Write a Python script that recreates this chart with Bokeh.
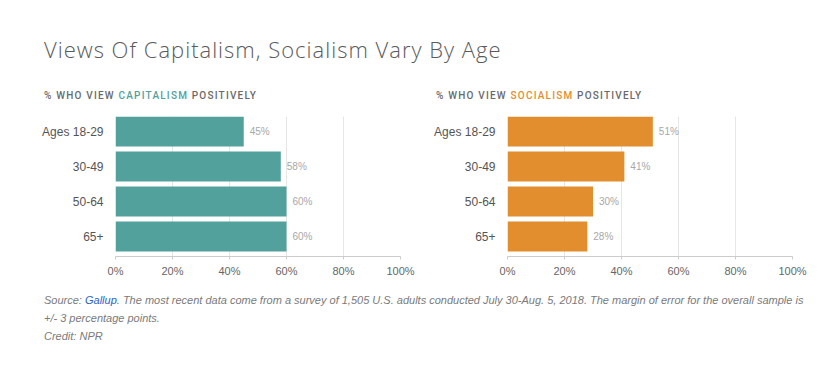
from bokeh.plotting import figure
from bokeh.models import Div, Range1d, FixedTicker, PrintfTickFormatter, ColumnDataSource
from bokeh.layouts import column, row
from bokeh.embed import file_html
from bokeh.resources import INLINE
from bokeh.core.properties import value

title_text = "Views Of Capitalism, Socialism Vary By Age"
age_groups = ["Ages 18-29", "30-49", "50-64", "65+"]
capitalism = [45, 58, 60, 60]
socialism = [51, 41, 30, 28]
x_ticks = [0, 20, 40, 60, 80, 100]

TEAL = "#52a19d"
ORANGE = "#e38e2e"
FONT = "Liberation Sans"

sub_style = ('position:absolute;top:91px;font-family:Roboto;font-weight:500;font-size:10px;'
             'line-height:10px;letter-spacing:1.2px;color:#6a6a6a;white-space:nowrap;')

header = Div(
    width=814, height=108, margin=0,
    text=(
        '<div style="position:relative;width:814px;height:108px;">'
        f'<div style="position:absolute;left:44px;top:38px;font-family:\'Open Sans\';font-weight:300;'
        f'font-size:22px;line-height:22px;letter-spacing:1px;color:#5a5a5a;white-space:nowrap;">{title_text}</div>'
        f'<div style="left:44px;{sub_style}">% WHO VIEW '
        f'<span style="color:{TEAL};">CAPITALISM</span> POSITIVELY</div>'
        f'<div style="left:436px;{sub_style}">% WHO VIEW '
        f'<span style="color:{ORANGE};">SOCIALISM</span> POSITIVELY</div>'
        '</div>'
    ),
)

footer = Div(
    width=814, height=64, margin=0,
    text=(
        f'<div style="padding-top:5px;padding-left:44px;font-family:\'{FONT}\';font-style:italic;font-size:11px;'
        'line-height:18px;color:#7a7a7a;white-space:nowrap;">'
        'Source: <span style="color:#2c5fc7;">Gallup</span>. The most recent data come from a survey of 1,505 U.S. '
        'adults conducted July 30-Aug. 5, 2018. The margin of error for the overall sample is<br>'
        '+/- 3 percentage points.<br>Credit: NPR</div>'
    ),
)


def panel(values, color, left_border, right_border):
    idx = list(range(len(age_groups)))
    src = ColumnDataSource(dict(
        y=idx, v=values, lab=[f"{v}%" for v in values],
    ))
    p = figure(
        output_backend="svg", toolbar_location=None,
        frame_width=285, frame_height=140,
        x_range=Range1d(0, 100), y_range=Range1d(3 + 20 / 35, -15 / 35),
        min_border_left=left_border, min_border_right=right_border,
        min_border_top=8, min_border_bottom=30,
        outline_line_color=None, background_fill_color="white", border_fill_color="white",
    )
    p.hbar(y="y", right="v", left=0, height=30 / 35, source=src, fill_color=color, line_color=None)
    p.text(x="v", y="y", text="lab", source=src, x_offset=6, text_align="left", text_baseline="middle",
           text_font=value(FONT), text_font_size="10px", text_color="#a8a8a8")

    p.ygrid.grid_line_color = None
    p.xgrid.grid_line_color = "#e6e6e6"
    p.xaxis.ticker = FixedTicker(ticks=x_ticks)
    p.xgrid.ticker = FixedTicker(ticks=x_ticks)
    p.xaxis.formatter = PrintfTickFormatter(format="%d%%")
    p.xaxis.axis_line_color = "#cccccc"
    p.xaxis.major_tick_line_color = "#cccccc"
    p.xaxis.major_tick_out = 3
    p.xaxis.major_tick_in = 0
    p.xaxis.minor_tick_line_color = None
    p.xaxis.major_label_text_font = FONT
    p.xaxis.major_label_text_font_size = "11px"
    p.xaxis.major_label_text_color = "#666666"
    p.xaxis.major_label_standoff = 5

    p.yaxis.ticker = FixedTicker(ticks=idx)
    p.yaxis.major_label_overrides = {i: g for i, g in zip(idx, age_groups)}
    p.yaxis.axis_line_color = None
    p.yaxis.major_tick_line_color = None
    p.yaxis.minor_tick_line_color = None
    p.yaxis.major_label_standoff = 6
    p.yaxis.major_label_text_font = FONT
    p.yaxis.major_label_text_font_size = "12px"
    p.yaxis.major_label_text_color = "#555555"
    return p


p1 = panel(capitalism, TEAL, 115, 20)
p2 = panel(socialism, ORANGE, 87, 22)

layout = column(header, row(p1, p2), footer)

open("out.html", "w").write(file_html(layout, INLINE))
